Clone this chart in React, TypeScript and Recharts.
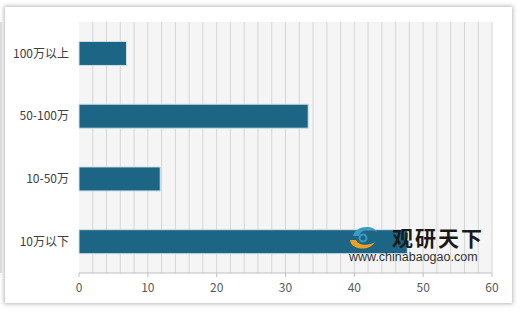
import { BarChart, Bar, XAxis, YAxis, CartesianGrid } from "recharts";

const categories = ["100万以上", "50-100万", "10-50万", "10万以下"];
const values = [6.9, 33.3, 11.8, 47.7];
const xTicks = [0, 10, 20, 30, 40, 50, 60];
const gridTicks = Array.from({ length: 30 }, (_, i) => (i + 1) * 2);
const edgeTicks = [0, 1, 2, 3, 4];

const data = categories.map((name, i) => ({ name, value: values[i] }));

const font = '"Noto Sans CJK SC", "Noto Sans", sans-serif';

// vertical grid every 2 units, placed through the x axis scale
const gridX = (props: any) => {
  const scale = props?.xAxis?.scale;
  if (typeof scale === "function") return gridTicks.map((t) => scale(t));
  const { left, width } = props.offset;
  return gridTicks.map((t) => left + (t / 60) * width);
};

export default function App() {
  return (
    <div
      style={{
        position: "absolute",
        left: 0,
        top: 0,
        width: 520,
        height: 311,
        background: "#fff",
        fontFamily: font,
      }}
    >
      <div
        style={{
          position: "absolute",
          left: 5,
          top: 7,
          width: 507,
          height: 296,
          background: "#fff",
          boxShadow: "0 0 4px 1px rgba(0,0,0,0.28)",
        }}
      />
      <div style={{ position: "absolute", left: 0, top: 0 }}>
        <BarChart
          width={520}
          height={311}
          data={data}
          layout="vertical"
          margin={{ top: 22, right: 28, left: 0, bottom: 0 }}
          barCategoryGap="31%"
        >
          <CartesianGrid
            horizontal={false}
            verticalCoordinatesGenerator={gridX}
            stroke="#d6d6d6"
            fill="#f5f5f5"
            fillOpacity={1}
          />
          <XAxis
            type="number"
            domain={[0, 60]}
            ticks={xTicks}
            interval={0}
            height={38}
            tickSize={4}
            tickMargin={6}
            stroke="#bfbfbf"
            tick={{ fill: "#595959", fontSize: 12, fontFamily: font }}
          />
          <YAxis
            yAxisId="edge"
            type="number"
            domain={[0, 4]}
            ticks={edgeTicks}
            width={1}
            tickSize={4}
            tick={false}
            stroke="#bfbfbf"
            reversed
          />
          <YAxis
            type="category"
            dataKey="name"
            width={78}
            axisLine={false}
            tickLine={false}
            tickSize={0}
            tickMargin={10}
            tick={{ fill: "#404040", fontSize: 12, fontFamily: font }}
          />
          <Bar
            dataKey="value"
            fill="#1c6585"
            stroke="#cfe0e8"
            strokeWidth={1}
            isAnimationActive={false}
          />
        </BarChart>
      </div>
      {/* watermark logo */}
      <svg
        width={32}
        height={28}
        style={{ position: "absolute", left: 347, top: 224 }}
      >
        <path
          d="M6 12 C 8 2, 26 0, 30 8 C 24 4, 14 5, 12 12 Z"
          fill="#3a9cc4"
        />
        <path
          d="M3 16 C 4 26, 22 28, 28 18 C 22 22, 12 22, 9 16 Z"
          fill="#f0a020"
        />
        <circle cx={16} cy={14} r={3.5} fill="none" stroke="#3a9cc4" strokeWidth={2} />
      </svg>
      <div
        style={{
          position: "absolute",
          left: 392,
          top: 226,
          fontSize: 21,
          fontWeight: 700,
          color: "#1a1a1a",
          letterSpacing: 2,
          lineHeight: "22px",
        }}
      >
        观研天下
      </div>
      <div
        style={{
          position: "absolute",
          left: 349,
          top: 250,
          fontSize: 12.5,
          color: "#333",
          fontFamily: '"Liberation Sans", Arial, sans-serif',
          lineHeight: "15px",
        }}
      >
        www.chinabaogao.com
      </div>
    </div>
  );
}
